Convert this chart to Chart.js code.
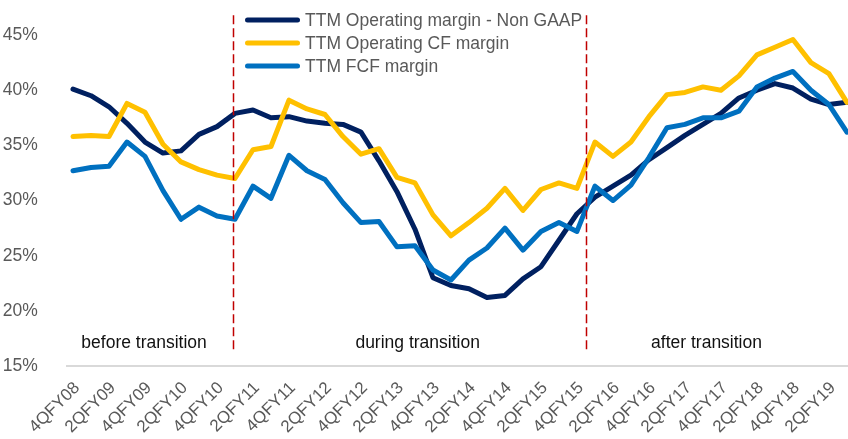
<!DOCTYPE html>
<html><head><meta charset="utf-8">
<style>html,body{margin:0;padding:0;background:#fff;overflow:hidden}#wrap{position:relative;width:848px;height:439px}</style>
<script src="https://cdn.jsdelivr.net/npm/chart.js@4.4.1/dist/chart.umd.min.js"></script>
</head><body><div id="wrap"><canvas id="c" width="848" height="439"></canvas></div>
<script>
const categories = ['4QFY08','1QFY09','2QFY09','3QFY09','4QFY09','1QFY10','2QFY10','3QFY10','4QFY10','1QFY11','2QFY11','3QFY11','4QFY11','1QFY12','2QFY12','3QFY12','4QFY12','1QFY13','2QFY13','3QFY13','4QFY13','1QFY14','2QFY14','3QFY14','4QFY14','1QFY15','2QFY15','3QFY15','4QFY15','1QFY16','2QFY16','3QFY16','4QFY16','1QFY17','2QFY17','3QFY17','4QFY17','1QFY18','2QFY18','3QFY18','4QFY18','1QFY19','2QFY19','3QFY19'];
const opMargin = [40.1,39.5,38.5,37.0,35.3,34.3,34.5,36.0,36.7,37.9,38.2,37.5,37.6,37.2,37.0,36.9,36.2,33.6,30.8,27.4,23.0,22.3,22.0,21.2,21.4,22.9,24.0,26.4,28.8,30.3,31.3,32.3,33.7,34.8,35.9,36.9,37.9,39.3,40.0,40.6,40.2,39.2,38.7,38.9];
const opCfMargin = [35.8,35.9,35.8,38.8,38.0,35.1,33.5,32.8,32.3,32.0,34.6,34.9,39.1,38.3,37.8,35.8,34.2,34.7,32.1,31.6,28.7,26.8,28.0,29.3,31.1,29.1,31.0,31.6,31.1,35.3,34.0,35.3,37.6,39.6,39.8,40.3,40.0,41.3,43.2,43.9,44.6,42.5,41.5,38.9];
const fcfMargin = [32.7,33.0,33.1,35.3,34.0,30.9,28.3,29.4,28.6,28.3,31.3,30.2,34.1,32.7,31.9,29.8,28.0,28.1,25.8,25.9,23.7,22.8,24.6,25.7,27.5,25.5,27.2,28.0,27.2,31.3,30.0,31.4,33.9,36.6,36.9,37.5,37.5,38.1,40.3,41.1,41.7,40.0,38.7,36.2];
const seriesNames = ['TTM Operating margin - Non GAAP','TTM Operating CF margin','TTM FCF margin'];
const yTickValues = [15,20,25,30,35,40,45];
const phaseNames = ['before transition','during transition','after transition'];
const phaseLabelX = [3.95, 19.15, 35.2];
const phaseLabelY = 17.1;
const phaseBoundaries = [8.87, 28.5];
const boundaryRange = [16.35, 46.8];

const FONT = "'Liberation Sans',Arial,sans-serif";
Chart.defaults.font.family = FONT;
const toXY = arr => arr.map((v,i)=>({x:i,y:v}));

const annot = {
  id:'annot',
  afterDatasetsDraw(chart){
    const {ctx, scales:{x,y}} = chart;
    ctx.save();
    ctx.strokeStyle = '#C00000'; ctx.lineWidth = 1.5; ctx.setLineDash([9,4]);
    phaseBoundaries.forEach(b=>{
      const px = Math.round(x.getPixelForValue(b))+0.5;
      ctx.beginPath(); ctx.moveTo(px, y.getPixelForValue(boundaryRange[1])); ctx.lineTo(px, y.getPixelForValue(boundaryRange[0])); ctx.stroke();
    });
    ctx.setLineDash([]);
    ctx.fillStyle = '#111'; ctx.font = "17.5px " + FONT; ctx.textAlign='center'; ctx.textBaseline='middle';
    phaseNames.forEach((t,i)=>ctx.fillText(t, x.getPixelForValue(phaseLabelX[i]), y.getPixelForValue(phaseLabelY)));
    ctx.textAlign='left';
    ctx.font = "17.5px " + FONT;
    chart.data.datasets.forEach((ds,i)=>{
      const ry = 20 + i*23;
      ctx.strokeStyle = ds.borderColor; ctx.lineWidth = 5; ctx.lineCap='round';
      ctx.beginPath(); ctx.moveTo(247.5, ry); ctx.lineTo(297.5, ry); ctx.stroke();
      ctx.fillStyle = '#595959';
      ctx.fillText(ds.label, 305, ry+1);
    });
    ctx.restore();
  }
};

new Chart(document.getElementById('c'), {
  type:'line',
  data:{datasets:[
    {label:seriesNames[0], data:toXY(opMargin), borderColor:'#002060', order:3},
    {label:seriesNames[1], data:toXY(opCfMargin), borderColor:'#FFC000', order:2},
    {label:seriesNames[2], data:toXY(fcfMargin), borderColor:'#0070C0', order:1}
  ]},
  options:{
    responsive:false, animation:false, devicePixelRatio:1,
    layout:{padding:{top:13,left:0,right:0,bottom:0}},
    plugins:{legend:{display:false}, tooltip:{enabled:false}},
    elements:{point:{radius:0}, line:{borderWidth:5, tension:0, borderCapStyle:'round', borderJoinStyle:'round'}},
    scales:{
      x:{type:'linear', min:-0.35, max:43.06, grid:{display:false}, border:{display:true,color:'#d9d9d9',width:2},
        afterBuildTicks: s => { s.ticks = categories.map((c,i)=>({value:i})).filter(t=>t.value%2===0); },
        ticks:{autoSkip:false, minRotation:45, maxRotation:45, padding:4, labelOffset:4, color:'#595959', font:{size:17}, callback:v=>categories[v]},
        afterFit: s => { s.height = 73; s.paddingLeft = 0; s.paddingRight = 0; }
      },
      y:{min:15, max:47, grid:{display:false}, border:{display:false},
        afterBuildTicks: s => { s.ticks = yTickValues.map(v=>({value:v})); },
        ticks:{padding:21, color:'#595959', font:{size:17.5}, callback:v=>v+'%'},
        afterFit: s => { s.width = 66.7; s.paddingTop = 0; s.paddingBottom = 0; }
      }
    }
  },
  plugins:[annot]
});
</script></body></html>
